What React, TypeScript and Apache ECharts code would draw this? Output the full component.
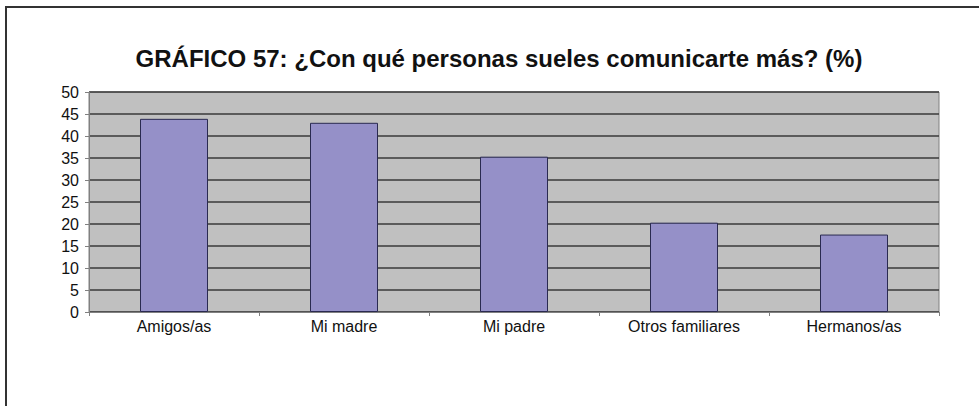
import React, { useEffect, useRef } from "react";
import * as echarts from "echarts";

const titleText = "GRÁFICO 57: ¿Con qué personas sueles comunicarte más? (%)";
const categories = ["Amigos/as", "Mi madre", "Mi padre", "Otros familiares", "Hermanos/as"];
const values = [43.9, 43.0, 35.3, 20.3, 17.6];
const yMin = 0;
const yMax = 50;
const yStep = 5;

export default function App() {
  const ref = useRef<HTMLDivElement>(null);
  useEffect(() => {
    if (!ref.current) return;
    const chart = echarts.init(ref.current, undefined, { renderer: "svg" });
    chart.setOption({
      animation: false,
      backgroundColor: "#ffffff",
      title: {
        text: titleText,
        left: 494,
        top: 41,
        textAlign: "center",
        textStyle: {
          fontFamily: "Liberation Sans, Arial, sans-serif",
          fontWeight: "bold",
          fontSize: 24,
          color: "#111111",
        },
      },
      graphic: [
        {
          type: "rect",
          shape: { x: 6, y: 7, width: 1100, height: 600 },
          style: { fill: "none", stroke: "#333333", lineWidth: 2 },
          silent: true,
          z: 100,
        },
      ],
      grid: {
        left: 89,
        top: 92,
        right: 40,
        bottom: 94,
        show: true,
        backgroundColor: "#c0c0c0",
        borderColor: "#808080",
        borderWidth: 1,
      },
      xAxis: {
        type: "category",
        data: categories,
        axisLine: { show: true, lineStyle: { color: "#808080", width: 1 } },
        axisTick: { show: true, alignWithLabel: false, length: 4, lineStyle: { color: "#808080" } },
        axisLabel: {
          color: "#111111",
          fontFamily: "Liberation Sans, Arial, sans-serif",
          fontSize: 16,
          margin: 6,
        },
      },
      yAxis: {
        type: "value",
        min: yMin,
        max: yMax,
        interval: yStep,
        axisLine: { show: true, lineStyle: { color: "#808080", width: 1 } },
        axisTick: { show: true, length: 4, lineStyle: { color: "#808080" } },
        splitLine: { show: true, lineStyle: { color: "#3a3a3a", width: 1.5 } },
        axisLabel: {
          color: "#111111",
          fontFamily: "Liberation Sans, Arial, sans-serif",
          fontSize: 16,
          margin: 10,
        },
      },
      series: [
        {
          type: "bar",
          data: values,
          barWidth: "40%",
          itemStyle: {
            color: "#9590c8",
            borderColor: "#2a2a50",
            borderWidth: 1,
          },
        },
      ],
    });
    return () => chart.dispose();
  }, []);
  return (
    <div
      ref={ref}
      style={{ position: "fixed", left: 0, top: 0, width: 979, height: 406 }}
    />
  );
}
